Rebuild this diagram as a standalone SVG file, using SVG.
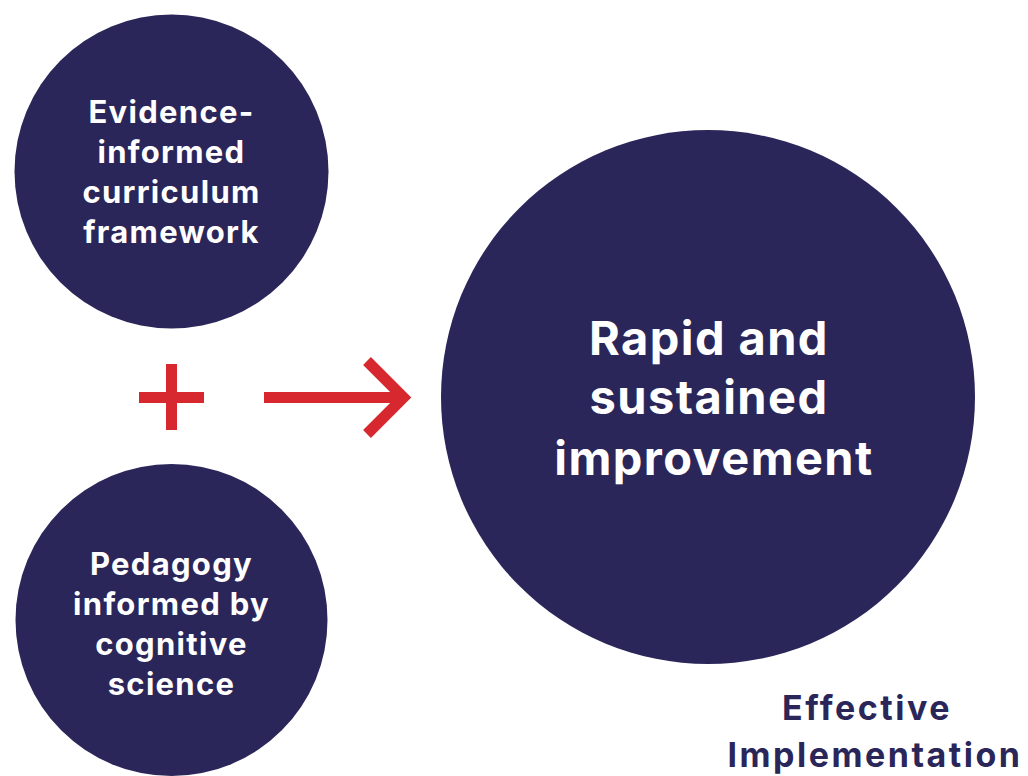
<svg xmlns="http://www.w3.org/2000/svg" width="1028" height="776" viewBox="0 0 1028 776">
<style>
.node{fill:#2b2659}
.t{font-family:Inter,"Noto Sans","Liberation Sans",sans-serif;font-weight:700;fill:#ffffff;text-anchor:middle}
.s{font-size:31px;letter-spacing:1.3px}
.b{font-size:47px;letter-spacing:1.4px}
.lab{font-family:Inter,"Noto Sans","Liberation Sans",sans-serif;font-weight:700;fill:#2b2659;text-anchor:middle;font-size:34px;letter-spacing:2.5px}
.red{stroke:#d7282f;stroke-width:11;fill:none}
</style>
<rect width="1028" height="776" fill="#ffffff"/>
<g id="node-curriculum">
<circle class="node" cx="171.5" cy="171.5" r="157"/>
<text class="t s" x="171.5" y="123">Evidence-</text>
<text class="t s" x="171.5" y="163">informed</text>
<text class="t s" x="171.5" y="203">curriculum</text>
<text class="t s" x="171.5" y="243">framework</text>
</g>
<g id="node-pedagogy">
<circle class="node" cx="171.5" cy="620" r="156"/>
<text class="t s" x="171.5" y="575">Pedagogy</text>
<text class="t s" x="171.5" y="615">informed by</text>
<text class="t s" x="171.5" y="655">cognitive</text>
<text class="t s" x="171.5" y="695">science</text>
</g>
<g id="node-improvement">
<circle class="node" cx="708" cy="397" r="267"/>
<text class="t b" x="709" y="355">Rapid and</text>
<text class="t b" x="709" y="414">sustained</text>
<text class="t b" x="714" y="475">improvement</text>
</g>
<g id="label-effective">
<text class="lab" x="867" y="720">Effective</text>
<text class="lab" x="875" y="767">Implementation</text>
</g>
<g id="connectors">
<path class="red" d="M139 397.5H204M171.5 364V430"/>
<path class="red" d="M264 397.5H404"/>
<path class="red" d="M367 361L403.5 397.5L367 434"/>
</g>
</svg>
